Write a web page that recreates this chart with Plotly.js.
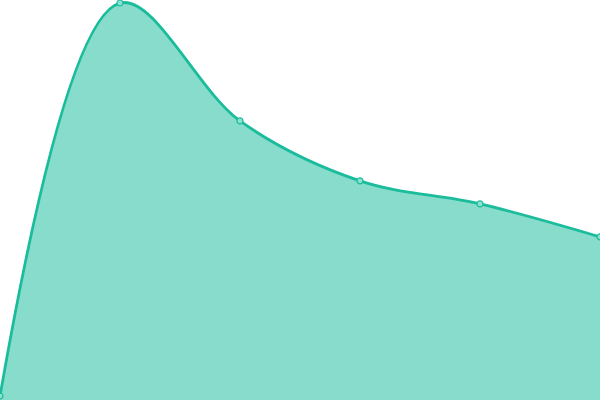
<!DOCTYPE html>
<html><head><meta charset="utf-8">
<script src="https://cdn.plot.ly/plotly-3.0.1.min.js"></script>
<style>html,body{margin:0;padding:0;background:#fff}#c{width:600px;height:400px}</style>
</head><body><div id="c"></div>
<script>
const categories = [0, 1, 2, 3, 4, 5];
const values = [1, 100, 70.3, 55.2, 49.4, 41.1];
Plotly.newPlot('c', [{
  x: categories, y: values, type: 'scatter', mode: 'lines+markers',
  fill: 'tozeroy', fillcolor: 'rgba(26,188,156,0.52)',
  line: {shape: 'spline', color: '#1abc9c', width: 2.8},
  marker: {size: 6, color: '#8ee0d0', line: {color: '#1abc9c', width: 1.2}},
  cliponaxis: false, hoverinfo: 'none'
}], {
  width: 600, height: 400, margin: {l: 0, r: 0, t: 0, b: 0},
  paper_bgcolor: '#fff', plot_bgcolor: '#fff', showlegend: false,
  xaxis: {range: [0, 5], visible: false, fixedrange: true},
  yaxis: {range: [0, 100.76], visible: false, fixedrange: true}
}, {displayModeBar: false, staticPlot: true});
</script></body></html>
